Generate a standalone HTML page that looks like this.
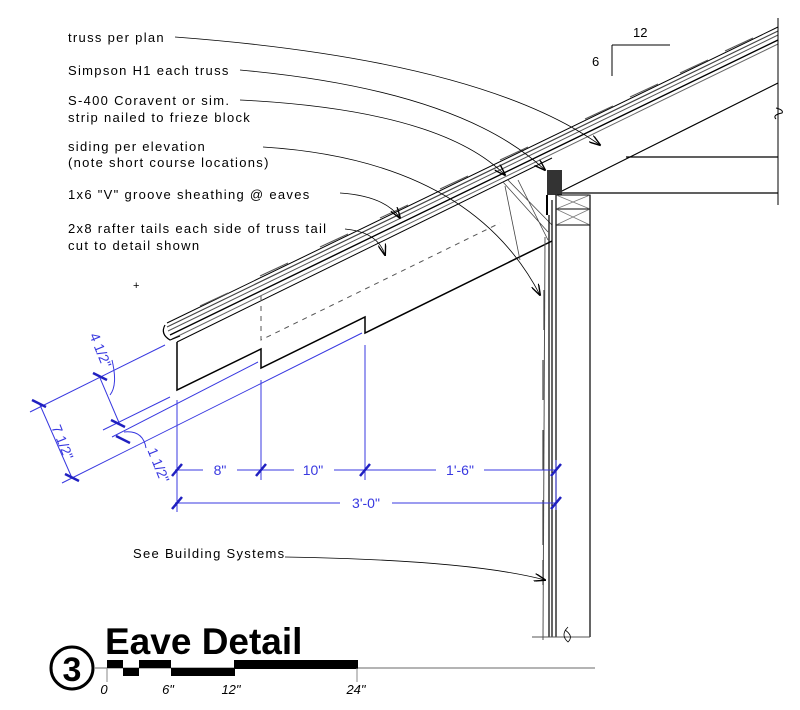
<!DOCTYPE html>
<html><head><meta charset="utf-8"><style>
html,body{margin:0;padding:0;background:#fff}
svg{display:block}
text{font-family:"Liberation Sans",sans-serif}
</style></head><body>
<svg width="800" height="710" viewBox="0 0 800 710" xmlns="http://www.w3.org/2000/svg">
<defs>
<marker id="ar" markerWidth="12" markerHeight="8" refX="11" refY="4" orient="auto" markerUnits="userSpaceOnUse">
<path d="M0,0 L12,4 L0,8" fill="none" stroke="#000" stroke-width="1.4"/>
</marker>
</defs>
<g fill="none" stroke="#000">
<path d="M167,323 L778,27" stroke-width="1"/>
<path d="M167,327 L778,31" stroke-width="1.2" stroke="#444"/>
<path d="M168,331 L778,35" stroke-width="1" stroke="#555"/>
<path d="M170,335 L778,40" stroke-width="1.4"/>
<path d="M172,339 L778,44" stroke-width="1" stroke="#666"/>
<g stroke-width="1" stroke="#555">
<path d="M200,306 l28,-13 M260,276 l28,-13 M320,247 l28,-13 M380,218 l28,-13 M440,189 l28,-13 M500,160 l28,-13 M585,119 l28,-13 M630,97 l28,-13 M680,73 l28,-13 M725,51 l28,-13"/>
</g>
<path d="M165,325 Q160,334 170,340 L180,336" stroke-width="1.2"/>
<path d="M177,342 L177,390 L261,349 L261,368 L365,317 L365,333 L552,241" stroke-width="1.5"/>
<path d="M177,342 L552,158" stroke-width="1"/>
<path d="M261,296 L261,340 L500,223" stroke-width="1" stroke-dasharray="5,5" stroke="#555"/>
<path d="M556,194 L778,83" stroke-width="1.2"/>
<path d="M556,193 L778,193" stroke-width="1.2"/>
<path d="M626,157 L778,157" stroke-width="1.2"/>
<path d="M778,18 L778,205 M776,108 q8,2 6,5 q-10,2 -6,6" stroke-width="1"/>
<path d="M503,182 L548,232 M508,180 L552,225 M505,186 L520,260 M518,180 L548,240" stroke-width="0.8" stroke="#444"/>
<rect x="547" y="170" width="15" height="25" fill="#333" stroke="none"/>
<path d="M547,195 L547,215" stroke-width="2"/>
<rect x="556" y="195" width="34" height="14" stroke-width="1"/>
<rect x="556" y="209" width="34" height="16" stroke-width="1"/>
<path d="M556,195 L590,209 M590,195 L556,209 M556,209 L590,225 M590,209 L556,225" stroke-width="0.7" stroke="#777"/>
<path d="M556,195 L556,637 M590,195 L590,637 M552,200 L552,637 M549,215 L549,637" stroke-width="1.2"/>
<path d="M545,237 L543,640" stroke-width="1" stroke="#555"/>
<g stroke-width="1.2" stroke="#444">
<path d="M544,290 l0,40 M543,360 l0,40 M543,430 l0,40 M543,500 l0,45 M543,560 l0,25"/>
</g>
<path d="M532,637 L590,637" stroke-width="1" stroke="#555"/>
<path d="M568,627 q-8,8 0,15 q6,-6 -3,-12" stroke-width="0.8"/>
</g>
<g stroke="#3838e0" fill="none" stroke-width="1">
<path d="M175,470 L556,470 M175,503 L556,503"/>
<path d="M177,400 L177,512 M261,380 L261,480 M365,345 L365,480 M556,460 L556,510"/>
<path d="M30,412 L165,345 M103,430 L170,397 M112,437 L258,362 M62,483 L362,333"/>
<path d="M40,405 L72,478 M100,378 L120,425"/>
<path d="M110,395 Q118,385 112,360 M124,432 Q143,430 146,448"/>
<g stroke-width="2.5" stroke="#2020c0">
<path d="M172,476 l10,-12 M256,476 l10,-12 M360,476 l10,-12 M551,476 l10,-12 M172,509 l10,-12 M551,509 l10,-12"/>
<path d="M32,400 l14,7 M93,373 l14,7 M111,420 l14,7 M116,436 l14,7 M65,474 l14,7"/>
</g>
</g>
<g fill="#3838e0" font-size="14" text-anchor="middle">
<rect x="203" y="462" width="34" height="16" fill="#fff"/>
<text x="220" y="475">8"</text>
<rect x="294" y="462" width="40" height="16" fill="#fff"/>
<text x="313" y="475">10"</text>
<rect x="436" y="462" width="48" height="16" fill="#fff"/>
<text x="460" y="475">1'-6"</text>
<rect x="340" y="495" width="52" height="16" fill="#fff"/>
<text x="366" y="508">3'-0"</text>
<text transform="translate(96,352) rotate(68)">4 1/2"</text>
<text transform="translate(58,444) rotate(68)">7 1/2"</text>
<text transform="translate(154,467) rotate(68)">1 1/2"</text>
</g>
<g fill="none" stroke="#000" stroke-width="0.8" marker-end="url(#ar)">
<path d="M175,37 Q480,60 600,145"/>
<path d="M240,70 Q460,90 545,170"/>
<path d="M240,100 Q440,110 505,175"/>
<path d="M263,147 Q470,160 540,295"/>
<path d="M340,193 Q385,196 400,218"/>
<path d="M345,229 Q378,232 385,255"/>
<path d="M285,557 Q470,560 545,580"/>
</g>
<g font-size="13" fill="#000" letter-spacing="1.3">
<text x="68" y="42">truss per plan</text>
<text x="68" y="75">Simpson H1 each truss</text>
<text x="68" y="105">S-400 Coravent or sim.</text>
<text x="68" y="122">strip nailed to frieze block</text>
<text x="68" y="151">siding per elevation</text>
<text x="68" y="167">(note short course locations)</text>
<text x="68" y="199">1x6 "V" groove sheathing @ eaves</text>
<text x="68" y="233">2x8 rafter tails each side of truss tail</text>
<text x="68" y="250">cut to detail shown</text>
<text x="133" y="558">See Building Systems</text>
</g>
<g font-size="13" fill="#000">
<text x="133" y="289" font-size="11">+</text>
<text x="633" y="37">12</text>
<text x="592" y="66">6</text>
</g>
<path d="M612,45 L670,45 M612,45 L612,76" stroke="#000" fill="none" stroke-width="1"/>
<circle cx="72" cy="668" r="21" fill="none" stroke="#000" stroke-width="3"/>
<text x="72" y="681" font-size="34" font-weight="bold" text-anchor="middle">3</text>
<text x="105" y="654" font-size="37" font-weight="bold" fill="#000">Eave Detail</text>
<path d="M94,668 L595,668" stroke="#888" stroke-width="1.2"/>
<g fill="#000">
<rect x="107" y="660" width="16" height="8"/>
<rect x="123" y="668" width="16" height="8"/>
<rect x="139" y="660" width="32" height="8"/>
<rect x="171" y="668" width="64" height="8"/>
<rect x="234" y="660" width="124" height="9"/>
</g>
<path d="M107,668 L107,682 M357,668 L357,682" stroke="#888"/>
<g font-size="13" fill="#000" text-anchor="middle" font-style="italic">
<text x="104" y="694">0</text>
<text x="168" y="694">6"</text>
<text x="231" y="694">12"</text>
<text x="356" y="694">24"</text>
</g>
</svg>
</body></html>
